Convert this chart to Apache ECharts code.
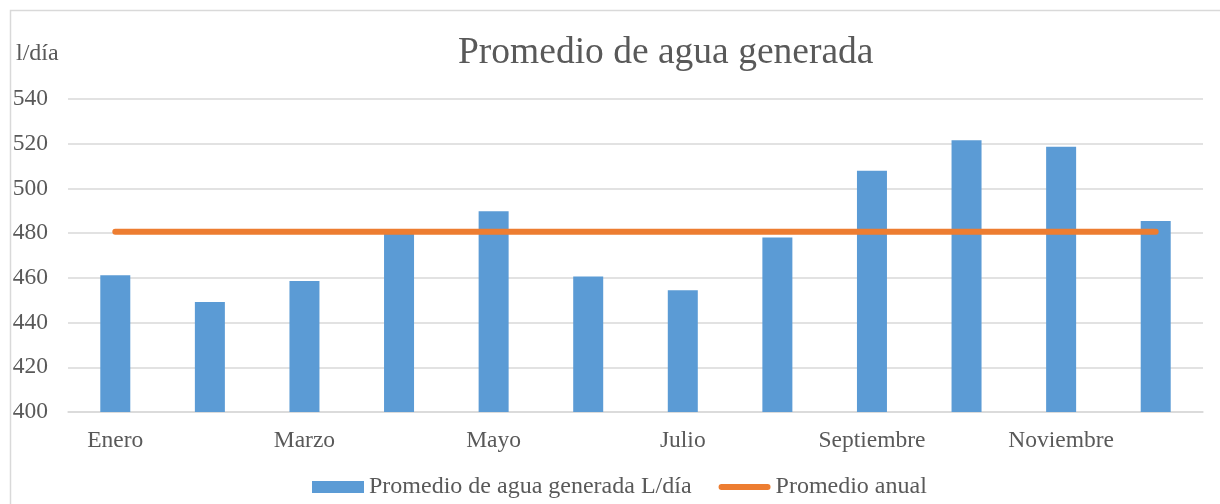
<!DOCTYPE html>
<html>
<head>
<meta charset="utf-8">
<script src="https://cdn.jsdelivr.net/npm/echarts@6/dist/echarts.min.js"></script>
<style>html,body{margin:0;padding:0;background:#fff;}#c{width:1220px;height:504px;}</style>
</head>
<body>
<div id="c"></div>
<script>
var categories = ['Enero','Febrero','Marzo','Abril','Mayo','Junio','Julio','Agosto','Septiembre','Octubre','Noviembre','Diciembre'];
var aguaGenerada = [461.2, 449.2, 458.6, 480.5, 489.8, 460.6, 454.5, 478.1, 507.9, 521.6, 518.6, 485.4];
var promedioAnual = [480.6, 480.6, 480.6, 480.6, 480.6, 480.6, 480.6, 480.6, 480.6, 480.6, 480.6, 480.6];
var yTicks = {min: 400, max: 540, interval: 20};
var serif = "'Liberation Serif','Times New Roman',serif";

var chart = echarts.init(document.getElementById('c'));
chart.setOption({
  animation: false,
  backgroundColor: '#ffffff',
  graphic: [{
    type: 'rect', left: 8, top: 8, z: -10,
    shape: {width: 1240, height: 520},
    style: {fill: 'none', stroke: '#d9d9d9', lineWidth: 1.5}
  }],
  title: [{
    text: 'Promedio de agua generada', left: 453, top: 29,
    textStyle: {fontFamily: serif, fontSize: 37.5, fontWeight: 'normal', color: '#595959'}
  }, {
    text: 'l/día', left: 11, top: 37,
    textStyle: {fontFamily: serif, fontSize: 24, fontWeight: 'normal', color: '#595959'}
  }],
  grid: {left: 68, right: 17, top: 99, bottom: 92, containLabel: false},
  legend: {
    top: 470, left: 307, itemGap: 27, itemWidth: 52, itemHeight: 12,
    textStyle: {fontFamily: serif, fontSize: 24, color: '#595959'},
    data: [
      {name: 'Promedio de agua generada L/día', icon: 'rect'},
      {name: 'Promedio anual', icon: 'path://M3,0 H49 A3,3 0 0 1 49,6 H3 A3,3 0 0 1 3,0 Z'}
    ]
  },
  xAxis: {
    type: 'category', data: categories,
    axisLine: {show: true, lineStyle: {color: '#d9d9d9', width: 1.5}},
    axisTick: {show: false},
    axisLabel: {interval: 1, fontFamily: serif, fontSize: 23.5, color: '#595959', margin: 17}
  },
  yAxis: {
    type: 'value', min: yTicks.min, max: yTicks.max, interval: yTicks.interval,
    axisLine: {show: false}, axisTick: {show: false},
    splitLine: {lineStyle: {color: '#d9d9d9', width: 1.5}},
    axisLabel: {fontFamily: serif, fontSize: 23.5, color: '#595959', margin: 20, align: 'right'}
  },
  series: [{
    name: 'Promedio de agua generada L/día', type: 'bar', data: aguaGenerada,
    barWidth: 30, itemStyle: {color: '#5B9BD5'}
  }, {
    name: 'Promedio anual', type: 'line', data: promedioAnual,
    symbol: 'none', lineStyle: {color: '#ED7D31', width: 6, cap: 'round'},
    itemStyle: {color: '#ED7D31'}
  }]
});
</script>
</body>
</html>
